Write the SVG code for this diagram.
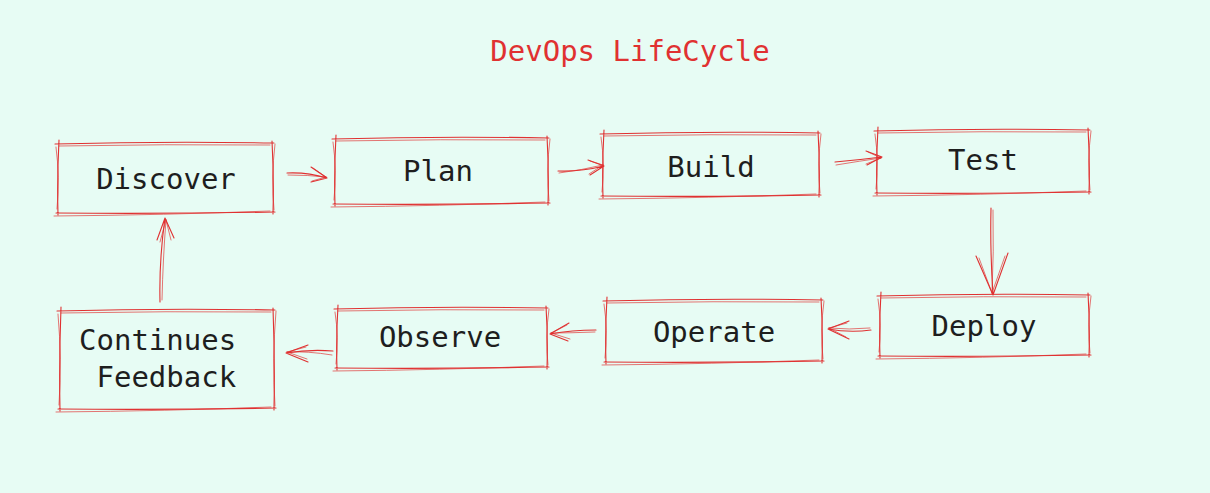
<svg xmlns="http://www.w3.org/2000/svg" width="1210" height="493" viewBox="0 0 1210 493">
<style>
.sk{fill:none;stroke:#e03131;stroke-width:1.1;stroke-linecap:round;stroke-linejoin:round}
.sk2{fill:none;stroke:#e03131;stroke-width:0.9;stroke-linecap:round;opacity:0.75}
.lbl{font-family:"DejaVu Sans Mono","Liberation Mono",monospace;font-size:29px;fill:#1e1e1e;text-anchor:middle}
.ttl{font-family:"DejaVu Sans Mono","Liberation Mono",monospace;font-size:29px;fill:#e03131;text-anchor:middle}
</style>
<rect width="1210" height="493" fill="#e7fcf4"/>
<text class="ttl" x="630" y="61">DevOps LifeCycle</text>

<g id="discover">
<path class="sk" d="M55 144 Q165 141 274 143 M272 141 Q274 177 273 214 M275 212 Q165 214 56 213 M58 215 Q57 177 59 140"/>
<path class="sk2" d="M59 146 Q165 144 270 145 M275 144 Q271 177 274 210 M270 211 Q165 215 54 216 M56 147 Q60 177 57 209"/>
<text class="lbl" x="166" y="189">Discover</text>
</g>
<g id="plan">
<path class="sk" d="M332 139 Q441 136 549 138 M547 136 Q549 170 548 205 M550 203 Q441 205 333 204 M335 206 Q334 170 336 135"/>
<path class="sk2" d="M336 141 Q441 139 545 140 M550 139 Q546 170 549 201 M545 202 Q441 206 331 207 M333 142 Q337 170 334 200"/>
<text class="lbl" x="438" y="181">Plan</text>
</g>
<g id="build">
<path class="sk" d="M600 134 Q710 131 820 133 M818 131 Q820 164 819 197 M821 195 Q710 197 601 196 M603 198 Q602 164 604 130"/>
<path class="sk2" d="M604 136 Q710 134 816 135 M821 134 Q817 164 820 193 M816 194 Q710 198 599 199 M601 137 Q605 164 602 192"/>
<text class="lbl" x="711" y="177">Build</text>
</g>
<g id="test">
<path class="sk" d="M874 131 Q982 128 1090 130 M1088 128 Q1090 161 1089 194 M1091 192 Q982 194 875 193 M877 195 Q876 161 878 127"/>
<path class="sk2" d="M878 133 Q982 131 1086 132 M1091 131 Q1087 161 1090 190 M1086 191 Q982 195 873 196 M875 134 Q879 161 876 189"/>
<text class="lbl" x="983" y="170">Test</text>
</g>
<g id="deploy">
<path class="sk" d="M877 296 Q984 293 1090 295 M1088 293 Q1090 325 1089 357 M1091 355 Q984 357 878 356 M880 358 Q879 325 881 292"/>
<path class="sk2" d="M881 298 Q984 296 1086 297 M1091 296 Q1087 325 1090 353 M1086 354 Q984 358 876 359 M878 299 Q882 325 879 352"/>
<text class="lbl" x="984" y="336">Deploy</text>
</g>
<g id="operate">
<path class="sk" d="M603 301 Q713 298 823 300 M821 298 Q823 330 822 363 M824 361 Q713 363 604 362 M606 364 Q605 330 607 297"/>
<path class="sk2" d="M607 303 Q713 301 819 302 M824 301 Q820 330 823 359 M819 360 Q713 364 602 365 M604 304 Q608 330 605 358"/>
<text class="lbl" x="714" y="342">Operate</text>
</g>
<g id="observe">
<path class="sk" d="M334 309 Q441 306 548 308 M546 306 Q548 337 547 369 M549 367 Q441 369 335 368 M337 370 Q336 337 338 305"/>
<path class="sk2" d="M338 311 Q441 309 544 310 M549 309 Q545 337 548 365 M544 366 Q441 370 333 371 M335 312 Q339 337 336 364"/>
<text class="lbl" x="440" y="347">Observe</text>
</g>
<g id="feedback">
<path class="sk" d="M57 311 Q166 308 275 310 M273 308 Q275 359 274 410 M276 408 Q166 410 58 409 M60 411 Q59 359 61 307"/>
<path class="sk2" d="M61 313 Q166 311 271 312 M276 311 Q272 359 275 406 M271 407 Q166 411 56 412 M58 314 Q62 359 59 405"/>
<text class="lbl" x="79" y="350" style="text-anchor:start" xml:space="preserve">Continues</text>
<text class="lbl" x="79" y="387" style="text-anchor:start" xml:space="preserve"> Feedback</text>
</g>

<g id="connectors">
<path class="sk" d="M287 173 Q307 172 327 178 M327 178 L311 167 M327 178 L311 182"/>
<path class="sk2" d="M288 175 Q308 175 326 177 M326 177 L313 168 M326 177 L312 181"/>
<path class="sk" d="M558 171 Q580 172 604 166 M604 166 L588 160 M604 166 L590 175"/>
<path class="sk2" d="M559 173 Q582 170 603 165 M603 165 L590 161 M603 165 L589 174"/>
<path class="sk" d="M835 162 Q858 160 882 157 M882 157 L866 151 M882 157 L867 165"/>
<path class="sk2" d="M836 165 Q860 161 881 158 M881 158 L868 152 M881 158 L866 164"/>
<path class="sk" d="M991 208 Q990 250 993 295 M993 295 L976 256 M993 295 L1008 253"/>
<path class="sk2" d="M993 210 Q994 252 992 293 M992 293 L979 258 M992 293 L1005 256"/>
<path class="sk" d="M871 330 Q850 333 828 329 M828 329 L849 321 M828 329 L849 339"/>
<path class="sk2" d="M870 328 Q849 330 829 328 M829 328 L847 323 M829 328 L846 337"/>
<path class="sk" d="M596 330 Q572 330 550 334 M550 334 L569 323 M550 334 L568 341"/>
<path class="sk2" d="M595 332 Q571 333 551 333 M551 333 L567 325 M551 333 L570 339"/>
<path class="sk" d="M333 351 Q310 349 286 353 M286 353 L308 345 M286 353 L308 362"/>
<path class="sk2" d="M332 355 Q308 351 287 352 M287 352 L306 347 M287 352 L307 359"/>
<path class="sk" d="M160 302 Q159 260 165 218 M165 218 L157 240 M165 218 L174 238"/>
<path class="sk2" d="M162 300 Q163 258 166 220 M166 220 L160 242 M166 220 L171 240"/>
</g>
</svg>
